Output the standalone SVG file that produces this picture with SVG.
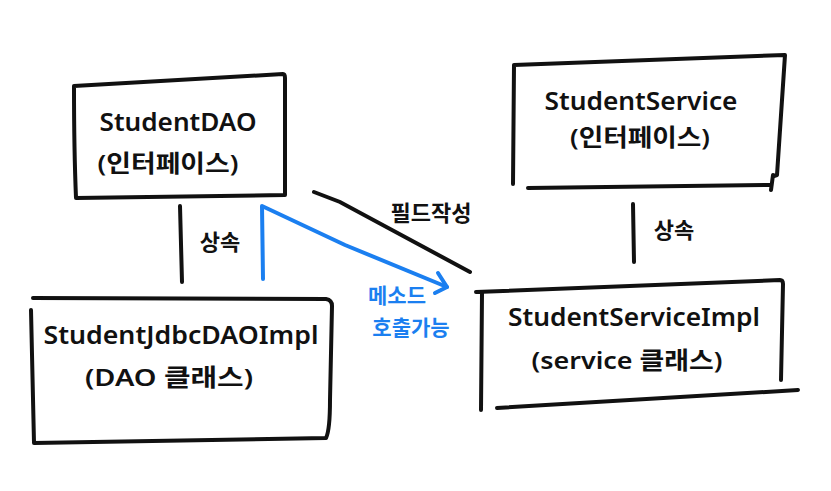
<svg xmlns="http://www.w3.org/2000/svg" width="831" height="491" viewBox="0 0 831 491">
<style>
.box{fill:none;stroke:#111;stroke-width:4;stroke-linecap:round;stroke-linejoin:round}
.ln{fill:none;stroke:#111;stroke-width:4;stroke-linecap:round}
.bl{fill:none;stroke:#1b7ff0;stroke-width:4;stroke-linecap:round;stroke-linejoin:round}
.t{font-family:"Noto Sans","Noto Sans CJK KR",sans-serif;fill:#111;text-anchor:middle;font-weight:600}
.n{font-size:26px}
.s{font-size:24px}
.k{font-size:22px;font-weight:bold}
.bt{font-family:"Noto Sans","Noto Sans CJK KR",sans-serif;fill:#1b7ff0;font-size:21px;font-weight:bold;text-anchor:middle}
</style>
<rect width="831" height="491" fill="#fff"/>
<g id="studentDAO">
<path class="box" d="M74 86 L283 74 Q285 74 285 78 L285 195 L76 198 Q74 150 74 86"/>
<text class="t n" x="178" y="131" textLength="157" lengthAdjust="spacingAndGlyphs">StudentDAO</text>
<text class="t s" x="168" y="172" textLength="141" lengthAdjust="spacingAndGlyphs">(인터페이스)</text>
</g>
<g id="studentJdbcDAOImpl">
<path class="box" d="M33 298 L326 299 Q332 300 332 306 L330 400 Q330 430 326 438 L34 443 L31 310"/>
<text class="t n" x="181" y="344" textLength="275" lengthAdjust="spacingAndGlyphs">StudentJdbcDAOImpl</text>
<text class="t s" x="169" y="386" textLength="168" lengthAdjust="spacingAndGlyphs">(DAO 클래스)</text>
</g>
<g id="studentService">
<path class="box" d="M514 65 L785 55 L777 175 L774 176 M773 175 L771 190 M514 65 L513 184 M528 188 L770 185"/>
<text class="t n" x="641" y="110" textLength="193" lengthAdjust="spacingAndGlyphs">StudentService</text>
<text class="t s" x="640" y="146" textLength="140" lengthAdjust="spacingAndGlyphs">(인터페이스)</text>
</g>
<g id="studentServiceImpl">
<path class="box" d="M476 292 L780 280 Q783 280 783 284 L781 380 M482 293 L481 410 M497 408 L798 390"/>
<text class="t n" x="634" y="326" textLength="252" lengthAdjust="spacingAndGlyphs">StudentServiceImpl</text>
<text class="t s" x="627" y="369" textLength="191" lengthAdjust="spacingAndGlyphs">(service 클래스)</text>
</g>
<g id="connectors">
<path class="ln" d="M180 206 L182 282"/>
<text class="t k" x="220" y="250">상속</text>
<path class="ln" d="M633 204 L634 262"/>
<text class="t k" x="674" y="238">상속</text>
<path class="ln" d="M314 192 L340 202 L470 272"/>
<text class="t k" x="431" y="221">필드작성</text>
<path class="bl" d="M263 279 L262 206 L345 245 L447 287"/>
<path class="bl" d="M438 273 L447 287 L435 293"/>
<text class="bt" x="397" y="303">메소드</text>
<text class="bt" x="411" y="335">호출가능</text>
</g>
</svg>
